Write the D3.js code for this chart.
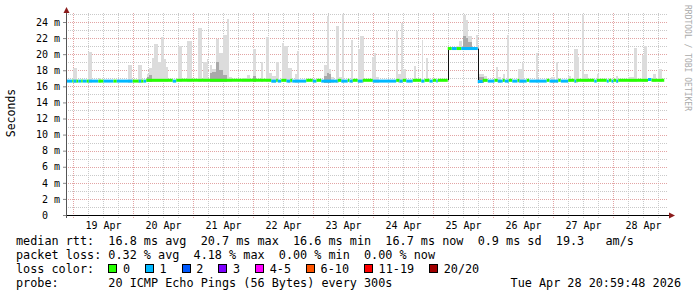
<!DOCTYPE html>
<html>
<head>
<meta charset="utf-8">
<script src="https://cdn.jsdelivr.net/npm/d3@7"></script>
<style>
  body { margin: 0; background: #fff; }
  svg text { font-family: "DejaVu Sans Mono", monospace; white-space: pre; }
</style>
</head>
<body>
<script>
// hours are counted from 19 Apr 2026 00:00
const baseDate = new Date(2026, 3, 19, 0, 0, 0);
const viewStart = -2.6, viewEnd = 237.4, dataEnd = 236.5;

const yTickValues = [0, 2, 4, 6, 8, 10, 12, 14, 16, 18, 20, 22, 24];
const dayTickLabels = ["19 Apr", "20 Apr", "21 Apr", "22 Apr", "23 Apr",
                       "24 Apr", "25 Apr", "26 Apr", "27 Apr", "28 Apr"];

// median rtt runs: [start hour, loss bucket, median ms]
const medianRuns = [
  [-2.6, 1, 16.65], [-0.3, 0, 16.65], [0.2, 1, 16.65], [1.4, 0, 16.65], [2.1, 1, 16.65],
  [3.3, 0, 16.65], [3.9, 1, 16.65], [5.5, 0, 16.65], [6.3, 1, 16.65], [10.1, 0, 16.65],
  [12.2, 1, 16.65], [16.2, 0, 16.65], [17.5, 1, 16.65], [23.9, 0, 16.65], [26.3, 1, 16.65],
  [27.3, 0, 16.65], [28.2, 1, 16.65], [29.3, 0, 16.75], [39.9, 1, 16.65], [41.3, 0, 16.75],
  [79.3, 1, 16.65], [81.3, 0, 16.75], [81.9, 1, 16.65], [83.3, 0, 16.75], [85.4, 1, 16.65],
  [86.9, 0, 16.75], [87.7, 1, 16.65], [93.3, 0, 16.75], [95.9, 1, 16.65], [97.4, 0, 16.75],
  [99.3, 1, 16.65], [105.9, 0, 16.75], [107.3, 1, 16.65], [109.9, 0, 16.75], [110.6, 1, 16.65],
  [111.9, 0, 16.75], [113.9, 1, 16.65], [115.9, 0, 16.75], [119.9, 1, 16.65], [129.3, 0, 16.75],
  [130.6, 1, 16.65], [131.9, 0, 16.75], [133.3, 1, 16.65], [135.9, 0, 16.75], [139.3, 1, 16.65],
  [140.6, 0, 16.75], [142.6, 1, 16.65], [143.9, 0, 16.75], [145.3, 1, 16.65], [145.9, 0, 16.75],
  [149.9, 0, 20.7], [151.5, 1, 20.7], [153.5, 0, 20.7], [155.3, 1, 20.7],
  [161.9, 1, 16.6], [163.9, 0, 16.75], [165.9, 1, 16.65], [168.6, 0, 16.75], [169.9, 1, 16.65],
  [171.9, 0, 16.75], [172.7, 1, 16.65], [174.3, 0, 16.75], [175.7, 1, 16.65], [177.8, 0, 16.75],
  [178.5, 1, 16.65], [181.5, 0, 16.75], [182.5, 1, 16.65], [189.5, 0, 16.75], [190.6, 1, 16.65],
  [194.1, 0, 16.75], [195.1, 1, 16.65], [198.1, 0, 16.75], [200.6, 1, 16.65], [201.3, 0, 16.75],
  [208.5, 1, 16.65], [209.5, 0, 16.75], [213.5, 1, 16.65], [214.3, 0, 16.75], [215.4, 1, 16.65],
  [216.2, 0, 16.75], [217.3, 1, 16.65], [218.1, 0, 16.75], [230.0, 1, 16.85], [231.4, 0, 16.75]
];

// smoke: [start hour, duration hours, max ping ms, dense part ms (0 = none)]
const smoke = [
  [0.0, 1.4, 18.3, 0], [6.1, 1.3, 20.3, 0], [10.5, 0.6, 17.0, 0], [22.1, 1.3, 18.7, 0],
  [26.1, 1.3, 18.7, 0], [29.4, 0.9, 17.5, 17.2], [30.3, 1.1, 18.3, 17.4], [31.4, 1.1, 19.5, 0],
  [32.5, 1.6, 21.3, 0], [34.1, 1.0, 19.0, 0], [35.1, 1.1, 22.1, 0], [36.2, 1.1, 19.4, 0],
  [37.3, 0.8, 18.4, 0], [42.1, 1.3, 21.0, 0], [45.4, 2.0, 21.6, 0], [50.1, 1.3, 23.2, 0],
  [52.1, 1.3, 19.0, 0], [53.4, 0.7, 19.4, 0], [54.7, 1.0, 18.7, 17.6], [55.7, 1.6, 18.2, 17.8],
  [57.3, 0.9, 21.9, 19.0], [58.2, 1.7, 20.1, 18.0], [59.9, 1.6, 22.4, 17.4], [61.5, 0.7, 24.4, 0],
  [62.2, 1.3, 17.1, 0], [67.4, 2.1, 17.0, 0], [69.5, 1.4, 17.4, 0], [71.9, 1.4, 20.6, 17.3],
  [75.3, 0.7, 19.0, 0], [77.3, 0.9, 22.1, 0], [78.2, 1.3, 17.6, 0], [79.5, 1.8, 17.3, 0],
  [81.3, 0.9, 19.0, 0], [83.5, 1.0, 21.4, 0], [84.5, 1.3, 21.0, 0], [85.8, 1.7, 18.3, 0],
  [88.7, 0.8, 17.5, 0], [89.5, 0.7, 20.4, 0], [100.2, 1.3, 18.7, 17.3], [101.5, 0.7, 24.7, 17.6],
  [102.2, 0.9, 18.2, 17.5], [103.1, 1.4, 17.1, 0], [105.3, 0.9, 23.5, 0], [106.2, 1.3, 17.1, 0],
  [107.5, 0.7, 25.0, 0], [111.1, 0.8, 21.7, 0], [113.9, 1.0, 20.6, 0], [114.9, 1.3, 22.3, 0],
  [119.4, 0.8, 19.7, 0], [120.2, 0.8, 20.1, 0], [121.0, 1.2, 17.2, 0], [129.3, 0.8, 22.9, 0],
  [130.1, 1.0, 17.5, 0], [131.1, 0.8, 23.9, 0], [131.9, 1.4, 18.2, 0], [136.3, 1.0, 18.5, 0],
  [139.4, 0.7, 21.7, 0], [141.0, 1.1, 19.5, 0],
  [153.0, 1.3, 21.0, 0], [154.3, 1.4, 21.6, 0], [155.9, 1.4, 24.9, 22.3], [157.3, 0.8, 24.2, 22.0],
  [158.1, 1.3, 22.2, 21.5], [161.3, 0.6, 22.4, 0],
  [161.9, 2.4, 17.5, 17.2], [164.3, 1.1, 17.3, 0], [169.3, 0.8, 18.4, 0], [170.1, 0.9, 17.2, 0],
  [171.9, 0.8, 17.5, 0], [173.5, 0.8, 22.4, 0], [178.1, 1.3, 18.1, 0], [179.4, 0.8, 18.9, 0],
  [185.3, 0.8, 20.1, 0], [191.1, 1.8, 17.1, 0], [193.1, 1.0, 19.0, 0], [197.8, 1.3, 17.3, 0],
  [200.2, 1.6, 20.7, 0], [201.8, 0.7, 19.6, 0], [203.4, 0.8, 24.9, 0], [204.2, 1.6, 17.5, 0],
  [209.5, 0.7, 17.5, 0], [217.1, 1.0, 17.3, 0], [221.8, 2.4, 17.1, 0], [224.2, 1.2, 20.8, 0],
  [227.4, 1.1, 19.9, 0], [228.5, 0.9, 21.0, 0], [231.8, 1.3, 17.5, 0], [234.1, 1.3, 18.1, 0]
];

const lossLabels = ["0", "1", "2", "3", "4-5", "6-10", "11-19", "20/20"];
const lossColors = ["#26ff00", "#00b8ff", "#0059ff", "#7e00ff", "#ff00ff", "#ff5500", "#ff0000", "#a10000"];

const statLines = [
  "median rtt:  16.8 ms avg  20.7 ms max  16.6 ms min  16.7 ms now  0.9 ms sd  19.3   am/s",
  "packet loss: 0.32 % avg  4.18 % max  0.00 % min  0.00 % now"
];
const lossTitle = "loss color:";
const probeText = "probe:       20 ICMP Echo Pings (56 Bytes) every 300s";
const stampText = "Tue Apr 28 20:59:48 2026";

const width = 697, height = 297;
const toDate = (h) => new Date(+baseDate + h * 36e5);

const svg = d3.select("body").append("svg")
  .attr("width", width)
  .attr("height", height);

const x = d3.scaleTime()
  .domain([toDate(viewStart), toDate(viewEnd)])
  .range([66.5, 666.5]);
const pxPerMs = 193 / 24;
const y = d3.scaleLinear()
  .domain([0, 25.3])
  .range([215, 215 - 25.3 * pxPerMs]);

const plotTop = 13, plotBottom = 215, plotRight = 668;

// grid
const minorX = d3.timeHour.every(6).range(toDate(viewStart), toDate(viewEnd))
  .filter((d) => d.getHours() !== 0);
const majorX = d3.timeDay.range(toDate(viewStart), toDate(viewEnd));
const minorY = d3.range(1, 26, 2);

function styleGrid(g, color) {
  g.select(".domain").remove();
  g.selectAll("line")
    .attr("stroke", color)
    .attr("stroke-dasharray", "1,1")
    .attr("shape-rendering", "crispEdges");
}

svg.append("g")
  .attr("transform", `translate(0,${plotBottom + 3})`)
  .call(d3.axisBottom(x).tickValues(minorX).tickFormat("").tickSize(-(plotBottom + 3 - plotTop)))
  .call(styleGrid, "#c9c9c9");
svg.append("g")
  .attr("transform", `translate(66,0)`)
  .call(d3.axisRight(y).tickValues(minorY).tickFormat("").tickSize(plotRight - 66))
  .call(styleGrid, "#c9c9c9");
svg.append("g")
  .attr("transform", `translate(66,0)`)
  .call(d3.axisRight(y).tickValues(yTickValues.slice(1)).tickFormat("").tickSize(plotRight - 66))
  .call(styleGrid, "#e2a4a4");
svg.append("g")
  .attr("transform", `translate(0,${plotBottom + 3})`)
  .call(d3.axisBottom(x).tickValues(majorX).tickFormat("").tickSize(-(plotBottom + 3 - plotTop)))
  .call(styleGrid, "#e2a4a4");

// median lookup for smoke base
const runStart = medianRuns.map((r) => r[0]);
const medianAt = (h) => medianRuns[Math.max(0, d3.bisectRight(runStart, h) - 1)][2];

// smoke
const smokeG = svg.append("g").attr("shape-rendering", "crispEdges");
smokeG.selectAll("rect.light")
  .data(smoke).enter()
  .append("rect")
    .attr("class", "light")
    .attr("x", (d) => x(toDate(d[0])))
    .attr("width", (d) => x(toDate(d[0] + d[1])) - x(toDate(d[0])))
    .attr("y", (d) => y(d[2]))
    .attr("height", (d) => y(medianAt(d[0] + d[1] / 2) - 0.2) - y(d[2]))
    .attr("fill", "#dcdcdc");
smokeG.selectAll("rect.dense")
  .data(smoke.filter((d) => d[3] > 0)).enter()
  .append("rect")
    .attr("class", "dense")
    .attr("x", (d) => x(toDate(d[0])))
    .attr("width", (d) => x(toDate(d[0] + d[1])) - x(toDate(d[0])))
    .attr("y", (d) => y(d[3]))
    .attr("height", (d) => y(medianAt(d[0] + d[1] / 2) - 0.2) - y(d[3]))
    .attr("fill", "#a9a9a9");

// median line, coloured by loss
const runs = medianRuns.map((r, i) => ({
  start: r[0],
  end: i + 1 < medianRuns.length ? medianRuns[i + 1][0] : dataEnd,
  loss: r[1],
  ms: r[2],
  prev: i > 0 ? medianRuns[i - 1][2] : r[2]
}));

svg.append("g")
  .selectAll("line")
  .data(runs.filter((d) => Math.abs(d.ms - d.prev) > 1)).enter()
  .append("line")
    .attr("x1", (d) => Math.round(x(toDate(d.start))) + 0.5)
    .attr("x2", (d) => Math.round(x(toDate(d.start))) + 0.5)
    .attr("y1", (d) => y(d.prev))
    .attr("y2", (d) => y(d.ms))
    .attr("stroke", "#111")
    .attr("stroke-width", 1);

svg.append("g")
  .selectAll("line")
  .data(runs).enter()
  .append("line")
    .attr("x1", (d) => x(toDate(d.start)))
    .attr("x2", (d) => x(toDate(d.end)))
    .attr("y1", (d) => y(d.ms))
    .attr("y2", (d) => y(d.ms))
    .attr("stroke", (d) => lossColors[d.loss])
    .attr("stroke-width", 3);

// axes
svg.append("line")
  .attr("x1", 63).attr("x2", 670)
  .attr("y1", plotBottom + 0.5).attr("y2", plotBottom + 0.5)
  .attr("stroke", "#000");
svg.append("path")
  .attr("d", `M669,${plotBottom - 2.5}L675,${plotBottom + 0.5}L669,${plotBottom + 3.5}Z`)
  .attr("fill", "#8b1c1c");
svg.append("line")
  .attr("x1", 66.5).attr("x2", 66.5)
  .attr("y1", plotBottom + 3).attr("y2", plotTop - 1)
  .attr("stroke", "#555");
svg.append("path")
  .attr("d", `M63.5,${plotTop}L66.5,${plotTop - 6}L69.5,${plotTop}Z`)
  .attr("fill", "#8b1c1c");

const yAxis = svg.append("g")
  .attr("transform", "translate(66,0)")
  .call(d3.axisLeft(y)
    .tickValues(yTickValues)
    .tickSize(3)
    .tickPadding(3)
    .tickFormat((d) => d === 0 ? "0  " : d + " m"));
yAxis.select(".domain").remove();
yAxis.selectAll("line").attr("stroke", "#888");
yAxis.selectAll("text")
  .attr("font-family", "DejaVu Sans Mono")
  .attr("font-size", 10)
  .attr("fill", "#000");

const xAxis = svg.append("g")
  .attr("transform", `translate(0,${plotBottom})`)
  .call(d3.axisBottom(x)
    .tickValues(dayTickLabels.map((_, i) => toDate(12 + 24 * i)))
    .tickSize(0)
    .tickPadding(7)
    .tickFormat((d, i) => dayTickLabels[i]));
xAxis.select(".domain").remove();
xAxis.selectAll("text")
  .attr("font-family", "DejaVu Sans Mono")
  .attr("font-size", 10)
  .attr("fill", "#000");

// titles
svg.append("text")
  .attr("transform", "translate(14.5,113) rotate(-90)")
  .attr("text-anchor", "middle")
  .attr("font-size", 11.5)
  .text("Seconds");
svg.append("text")
  .attr("transform", "translate(685,5) rotate(90)")
  .attr("font-size", 8)
  .attr("fill", "#aaa")
  .text("RRDTOOL / TOBI OETIKER");

// legend
const legendSize = 11.8, charW = 7.1, left = 16;
const rowY = [245, 259, 273, 286.5];
statLines.forEach((s, i) => {
  svg.append("text")
    .attr("x", left).attr("y", rowY[i])
    .attr("font-size", legendSize)
    .text(s);
});
svg.append("text")
  .attr("x", left).attr("y", rowY[2])
  .attr("font-size", legendSize)
  .text(lossTitle);

let lx = left + 13 * charW;
lossLabels.forEach((lab, i) => {
  svg.append("rect")
    .attr("x", Math.round(lx) + 0.5).attr("y", rowY[2] - 8.5)
    .attr("width", 8).attr("height", 8)
    .attr("fill", lossColors[i])
    .attr("stroke", "#000");
  svg.append("text")
    .attr("x", lx + 14.6).attr("y", rowY[2])
    .attr("font-size", legendSize)
    .text(lab);
  lx += 14.6 + lab.length * charW + 15;
});

svg.append("text")
  .attr("x", left).attr("y", rowY[3])
  .attr("font-size", legendSize)
  .text(probeText);
svg.append("text")
  .attr("x", 681).attr("y", rowY[3])
  .attr("text-anchor", "end")
  .attr("font-size", legendSize)
  .text(stampText);
</script>
</body>
</html>
